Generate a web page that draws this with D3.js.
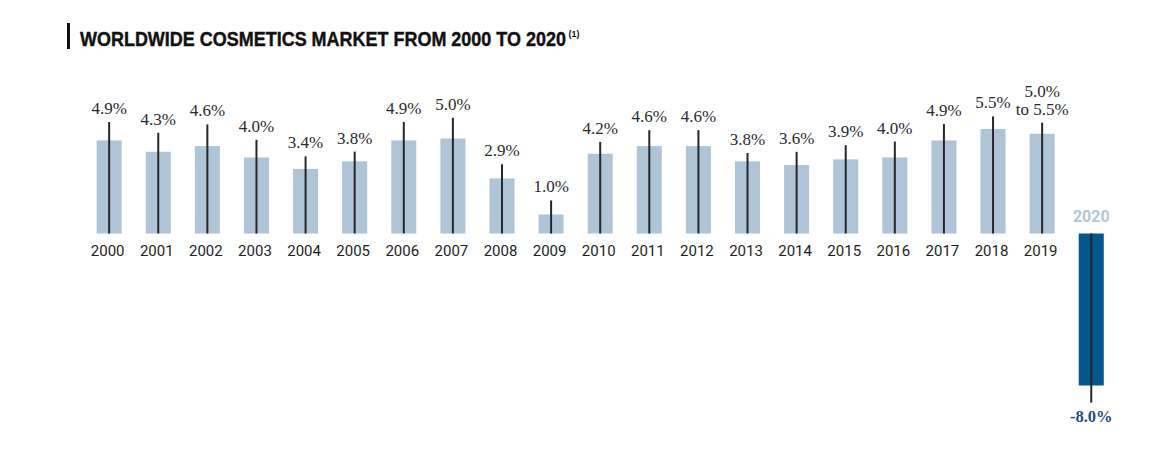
<!DOCTYPE html>
<html>
<head>
<meta charset="utf-8">
<script src="https://cdn.jsdelivr.net/npm/d3@7"></script>
<style>
  html, body { margin: 0; padding: 0; background: #ffffff; }
  svg { display: block; }
</style>
</head>
<body>
<svg id="chart" width="1159" height="452"></svg>
<script>
// ---- data ----
const years = ["2000","2001","2002","2003","2004","2005","2006","2007","2008","2009",
               "2010","2011","2012","2013","2014","2015","2016","2017","2018","2019","2020"];
const growth = [4.9, 4.3, 4.6, 4.0, 3.4, 3.8, 4.9, 5.0, 2.9, 1.0,
                4.2, 4.6, 4.6, 3.8, 3.6, 3.9, 4.0, 4.9, 5.5, 5.25, -8.0];
// extension of the thin stem beyond each bar, in percentage points
const stemExt = [0.97, 1.0, 1.14, 0.93, 0.66, 0.51, 0.97, 1.09, 0.74, 0.74,
                 0.62, 0.84, 0.84, 0.44, 0.7, 0.75, 0.84, 0.86, 0.66, 0.58, 0.9];
const valueLabels = [["4.9%"],["4.3%"],["4.6%"],["4.0%"],["3.4%"],["3.8%"],["4.9%"],["5.0%"],["2.9%"],["1.0%"],
                     ["4.2%"],["4.6%"],["4.6%"],["3.8%"],["3.6%"],["3.9%"],["4.0%"],["4.9%"],["5.5%"],["5.0%","to 5.5%"],["-8.0%"]];
const titleText = "WORLDWIDE COSMETICS MARKET FROM 2000 TO 2020";
const titleNote = "(1)";

// ---- scales ----
const svg = d3.select("#chart");
const x = d3.scaleBand().domain(years).range([84.6, 1115.8]).paddingInner(0.49).paddingOuter(0.245);
const y = d3.scaleLinear().domain([-8, 5.5]).range([385.5, 129]);
const y0 = y(0);

const light = "#b0c4d8", dark = "#03578b", stemColor = "#26262e";

// ---- title ----
svg.append("rect").attr("x", 67).attr("y", 23).attr("width", 3).attr("height", 26).attr("fill", "#111");
const title = svg.append("text").attr("x", 0).attr("y", 0)
  .attr("font-family", "Liberation Sans, Arial, sans-serif").attr("font-weight", 700)
  .attr("font-size", 19.5).attr("fill", "#111").attr("stroke", "#111").attr("stroke-width", 0.4)
  .text(titleText);
const natW = title.node().getComputedTextLength();
title.attr("transform", `translate(80,46) scale(${486 / natW},1)`);
svg.append("text").attr("x", 568.5).attr("y", 37)
  .attr("font-family", "Liberation Sans, Arial, sans-serif").attr("font-weight", 700)
  .attr("font-size", 9).attr("fill", "#111").text(titleNote);

// ---- bars ----
const data = years.map((yr, i) => ({ yr, v: growth[i], ext: stemExt[i], lab: valueLabels[i] }));

svg.append("g").selectAll("rect").data(data).join("rect")
  .attr("x", d => x(d.yr))
  .attr("width", x.bandwidth())
  .attr("y", d => Math.min(y(d.v), y0))
  .attr("height", d => Math.abs(y(d.v) - y0))
  .attr("fill", d => d.v < 0 ? dark : light);

// ---- stems ----
svg.append("g").selectAll("line").data(data).join("line")
  .attr("x1", d => x(d.yr) + x.bandwidth() / 2)
  .attr("x2", d => x(d.yr) + x.bandwidth() / 2)
  .attr("y1", y0)
  .attr("y2", d => d.v < 0 ? y(d.v - d.ext) : y(d.v + d.ext))
  .attr("stroke", stemColor).attr("stroke-width", 2);

// ---- value labels ----
const lg = svg.append("g");
data.forEach(d => {
  const cx = x(d.yr) + x.bandwidth() / 2;
  if (d.v >= 0) {
    const top = y(d.v + d.ext) - 8;
    const n = d.lab.length;
    d.lab.forEach((t, k) => {
      lg.append("text").attr("x", cx).attr("y", top - (n - 1 - k) * 17.5)
        .attr("text-anchor", "middle")
        .attr("font-family", "Liberation Serif, Times New Roman, serif")
        .attr("font-size", 17).attr("fill", "#2a2a30").text(t);
    });
  } else {
    lg.append("text").attr("x", cx).attr("y", y(d.v - d.ext) + 19)
      .attr("text-anchor", "middle")
      .attr("font-family", "Liberation Serif, Times New Roman, serif")
      .attr("font-weight", 700)
      .attr("font-size", 16.5).attr("fill", "#1f4f7c").text(d.lab[0]);
  }
});

// ---- year axis labels ----
const xAxis = d3.axisBottom(x).tickSize(0).tickPadding(0);
const ax = svg.append("g").attr("transform", `translate(0,${y0})`).call(xAxis);
ax.select(".domain").remove();
ax.selectAll(".tick text")
  .attr("font-family", "Roboto, Arial, sans-serif")
  .attr("font-size", 15).attr("fill", "#1e1e24")
  .attr("dy", null).attr("y", 22)
  .attr("dx", -1.5);
// 2020 label sits above its (negative) bar
ax.selectAll(".tick").filter(d => d === "2020").select("text")
  .attr("y", -11.5).attr("dx", 0)
  .attr("font-weight", 700).attr("font-size", 16).attr("fill", "#b3c6d9");
</script>
</body>
</html>
